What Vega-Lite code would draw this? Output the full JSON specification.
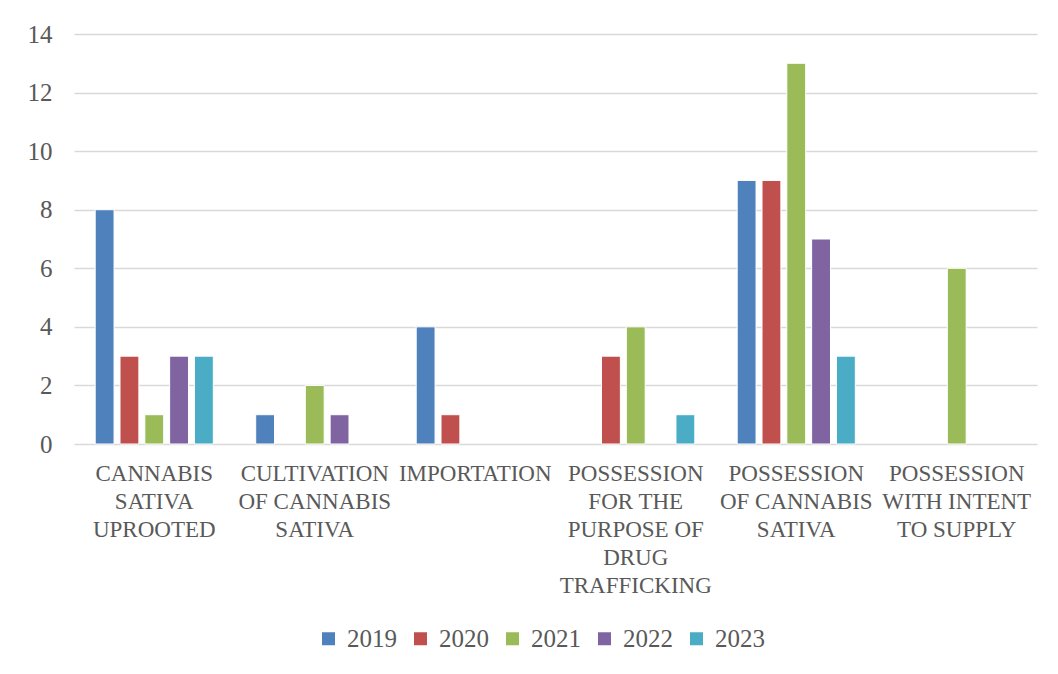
{
  "$schema": "https://vega.github.io/schema/vega-lite/v6.json",
  "width": 963,
  "height": 410,
  "autosize": {"type": "none"},
  "padding": {"left": 74, "top": 34, "right": 21, "bottom": 230},
  "background": "#ffffff",
  "config": {
    "view": {"stroke": null},
    "font": "Liberation Serif",
    "axis": {"labelFont": "Liberation Serif", "labelColor": "#595959"},
    "legend": {"labelFont": "Liberation Serif", "labelColor": "#595959"}
  },
  "data": {
    "values": [
      {"category": "CANNABIS SATIVA UPROOTED", "year": "2019", "count": 8},
      {"category": "CANNABIS SATIVA UPROOTED", "year": "2020", "count": 3},
      {"category": "CANNABIS SATIVA UPROOTED", "year": "2021", "count": 1},
      {"category": "CANNABIS SATIVA UPROOTED", "year": "2022", "count": 3},
      {"category": "CANNABIS SATIVA UPROOTED", "year": "2023", "count": 3},
      {"category": "CULTIVATION OF CANNABIS SATIVA", "year": "2019", "count": 1},
      {"category": "CULTIVATION OF CANNABIS SATIVA", "year": "2021", "count": 2},
      {"category": "CULTIVATION OF CANNABIS SATIVA", "year": "2022", "count": 1},
      {"category": "IMPORTATION", "year": "2019", "count": 4},
      {"category": "IMPORTATION", "year": "2020", "count": 1},
      {"category": "POSSESSION FOR THE PURPOSE OF DRUG TRAFFICKING", "year": "2020", "count": 3},
      {"category": "POSSESSION FOR THE PURPOSE OF DRUG TRAFFICKING", "year": "2021", "count": 4},
      {"category": "POSSESSION FOR THE PURPOSE OF DRUG TRAFFICKING", "year": "2023", "count": 1},
      {"category": "POSSESSION OF CANNABIS SATIVA", "year": "2019", "count": 9},
      {"category": "POSSESSION OF CANNABIS SATIVA", "year": "2020", "count": 9},
      {"category": "POSSESSION OF CANNABIS SATIVA", "year": "2021", "count": 13},
      {"category": "POSSESSION OF CANNABIS SATIVA", "year": "2022", "count": 7},
      {"category": "POSSESSION OF CANNABIS SATIVA", "year": "2023", "count": 3},
      {"category": "POSSESSION WITH INTENT TO SUPPLY", "year": "2021", "count": 6}
    ]
  },
  "mark": {"type": "bar", "stroke": "#ffffff", "strokeWidth": 1},
  "encoding": {
    "x": {
      "field": "category",
      "type": "nominal",
      "sort": null,
      "scale": {
        "domain": ["CANNABIS SATIVA UPROOTED", "CULTIVATION OF CANNABIS SATIVA", "IMPORTATION", "POSSESSION FOR THE PURPOSE OF DRUG TRAFFICKING", "POSSESSION OF CANNABIS SATIVA", "POSSESSION WITH INTENT TO SUPPLY"],
        "paddingInner": 0.227,
        "paddingOuter": 0.1135
      },
      "axis": {
        "title": null,
        "labelAngle": 0,
        "ticks": false,
        "domain": false,
        "labelFontSize": 23,
        "labelLineHeight": 28,
        "labelPadding": 18,
        "labelLimit": 0,
        "labelBaseline": "top",
        "labelExpr": "datum.value == 'CANNABIS SATIVA UPROOTED' ? ['CANNABIS', 'SATIVA', 'UPROOTED'] : datum.value == 'CULTIVATION OF CANNABIS SATIVA' ? ['CULTIVATION', 'OF CANNABIS', 'SATIVA'] : datum.value == 'POSSESSION FOR THE PURPOSE OF DRUG TRAFFICKING' ? ['POSSESSION', 'FOR THE', 'PURPOSE OF', 'DRUG', 'TRAFFICKING'] : datum.value == 'POSSESSION OF CANNABIS SATIVA' ? ['POSSESSION', 'OF CANNABIS', 'SATIVA'] : datum.value == 'POSSESSION WITH INTENT TO SUPPLY' ? ['POSSESSION', 'WITH INTENT', 'TO SUPPLY'] : datum.value"
      }
    },
    "xOffset": {
      "field": "year",
      "type": "nominal",
      "scale": {"domain": ["2019", "2020", "2021", "2022", "2023"], "paddingInner": 0.24, "paddingOuter": 0.12}
    },
    "y": {
      "field": "count",
      "type": "quantitative",
      "scale": {"domain": [0, 14], "nice": false},
      "axis": {
        "title": null,
        "values": [0, 2, 4, 6, 8, 10, 12, 14],
        "ticks": false,
        "domain": false,
        "grid": true,
        "gridColor": "#d9d9d9",
        "gridWidth": 1.3,
        "labelFontSize": 25,
        "labelPadding": 22
      }
    },
    "color": {
      "field": "year",
      "type": "nominal",
      "scale": {"domain": ["2019", "2020", "2021", "2022", "2023"], "range": ["#4f81bd", "#c0504d", "#9bbb59", "#8064a2", "#4bacc6"]},
      "legend": {
        "title": null,
        "orient": "none",
        "direction": "horizontal",
        "legendX": 242,
        "legendY": 592,
        "symbolType": "square",
        "symbolSize": 169,
        "symbolStrokeWidth": 0,
        "symbolOpacity": 1,
        "labelFontSize": 25,
        "labelOffset": 6,
        "columnPadding": 11
      }
    }
  }
}
